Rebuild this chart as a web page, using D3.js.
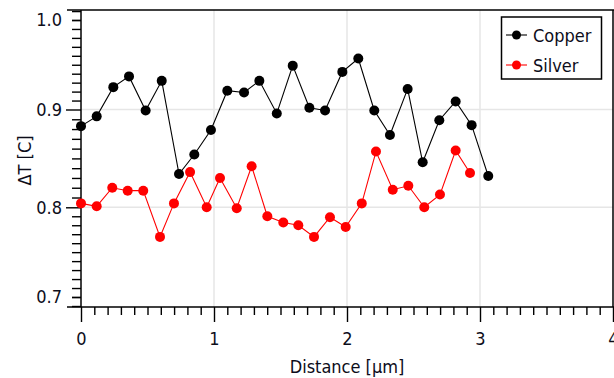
<!DOCTYPE html>
<html>
<head>
<meta charset="utf-8">
<script src="https://cdn.jsdelivr.net/npm/d3@7"></script>
<style>
  html, body { margin: 0; padding: 0; background: #fff; }
  svg { display: block; }
  text { font-family: "DejaVu Sans Condensed", "DejaVu Sans", sans-serif; font-stretch: condensed; fill: #0d0d1a; }
</style>
</head>
<body>
<svg id="chart" width="614" height="378"></svg>
<script>
// ---- data ----
const copperX = [0, 0.118, 0.243, 0.361, 0.486, 0.607, 0.737, 0.852, 0.977, 1.100, 1.226, 1.341, 1.472,
                 1.592, 1.717, 1.835, 1.965, 2.085, 2.205, 2.323, 2.456, 2.569, 2.694, 2.817, 2.937, 3.062];
const copperT = [0.883, 0.893, 0.925, 0.937, 0.899, 0.932, 0.834, 0.854, 0.879, 0.921, 0.919, 0.932, 0.896,
                 0.949, 0.902, 0.899, 0.942, 0.957, 0.899, 0.874, 0.923, 0.846, 0.889, 0.909, 0.884, 0.832];
const silverX = [0, 0.118, 0.235, 0.351, 0.468, 0.594, 0.699, 0.820, 0.945, 1.045, 1.171, 1.283, 1.401,
                 1.521, 1.634, 1.752, 1.872, 1.990, 2.111, 2.218, 2.344, 2.461, 2.581, 2.699, 2.817, 2.925];
const silverT = [0.804, 0.801, 0.820, 0.817, 0.817, 0.767, 0.804, 0.836, 0.800, 0.830, 0.799, 0.842, 0.790,
                 0.783, 0.780, 0.767, 0.789, 0.778, 0.804, 0.857, 0.818, 0.822, 0.800, 0.813, 0.858, 0.835];
const seriesNames = ["Copper", "Silver"];
const seriesColors = ["#000000", "#ff0000"];
const xTickValues = [0, 1, 2, 3, 4];
const yTickValues = [1.0, 0.9, 0.8, 0.7];
const xLabel = "Distance [μm]";
const yLabel = "ΔT [C]";

// ---- layout ----
const svg = d3.select("#chart");
const L = 81, R = 613, T = 10, B = 307;

const x = d3.scaleLinear().domain([0, 4]).range([L, R]);
// axis spacing in the reference is not perfectly uniform; piecewise linear mapping
const y = d3.scaleLinear()
  .domain([1.0112, 1.0, 0.9, 0.8, 0.7, 0.6889])
  .range([T, 20, 109.5, 207.3, 297, B]);

svg.append("rect").attr("width", 614).attr("height", 378).attr("fill", "#fff");

// grid
const grid = svg.append("g").attr("stroke", "#e6e6e6").attr("stroke-width", 1.5);
[1, 2, 3].forEach(v => grid.append("line").attr("x1", x(v)).attr("x2", x(v)).attr("y1", T).attr("y2", B));
[0.9, 0.8].forEach(v => grid.append("line").attr("x1", L).attr("x2", R).attr("y1", y(v)).attr("y2", y(v)));

function styleAxis(g) {
  g.select(".domain").remove();
  g.selectAll(".tick line").attr("stroke", "#000").attr("stroke-width", 1.4);
  g.selectAll(".tick text").attr("font-size", 18).style("font-family", null).attr("fill", "#0d0d1a");
}

// y minor ticks
const yMinor = d3.range(69, 102).map(d => d / 100).filter(v => ![90, 80].includes(Math.round(v * 100)));
svg.append("g").attr("transform", `translate(${L},0)`)
  .call(d3.axisLeft(y).tickValues(yMinor).tickSize(9).tickFormat(""))
  .call(styleAxis);
// y major (long) ticks
svg.append("g").attr("transform", `translate(${L},0)`)
  .call(d3.axisLeft(y).tickValues(yTickValues.filter(v => v === 0.9 || v === 0.8)).tickSize(15).tickPadding(4).tickFormat(d3.format(".1f")))
  .call(styleAxis);
svg.append("g").attr("transform", `translate(${L},0)`)
  .call(d3.axisLeft(y).tickValues(yTickValues.filter(v => v === 1.0 || v === 0.7)).tickSize(9).tickPadding(10).tickFormat(d3.format(".1f")))
  .call(styleAxis);

// x ticks
const xMinor = d3.range(0, 41).map(d => d / 10).filter(v => !xTickValues.includes(v));
svg.append("g").attr("transform", `translate(0,${B})`)
  .call(d3.axisBottom(x).tickValues(xMinor).tickSize(8).tickFormat(""))
  .call(styleAxis);
svg.append("g").attr("transform", `translate(0,${B})`)
  .call(d3.axisBottom(x).tickValues(xTickValues).tickSize(15).tickPadding(10).tickFormat(d3.format("d")))
  .call(styleAxis);

// frame
const frame = svg.append("g").attr("stroke", "#000").attr("stroke-width", 1.5);
frame.append("line").attr("x1", 67).attr("x2", R + 1).attr("y1", T).attr("y2", T);
frame.append("line").attr("x1", 67).attr("x2", R + 1).attr("y1", B).attr("y2", B);
frame.append("line").attr("x1", L).attr("x2", L).attr("y1", T).attr("y2", B);
frame.append("line").attr("x1", R).attr("x2", R).attr("y1", T).attr("y2", B);

// series
const series = [
  { name: seriesNames[0], color: seriesColors[0], pts: copperX.map((d, i) => [d, copperT[i]]) },
  { name: seriesNames[1], color: seriesColors[1], pts: silverX.map((d, i) => [d, silverT[i]]) }
];
const line = d3.line().x(d => x(d[0])).y(d => y(d[1]));
series.forEach(s => {
  svg.append("path").attr("d", line(s.pts)).attr("fill", "none")
    .attr("stroke", s.color).attr("stroke-width", 1.1);
  svg.append("g").selectAll("circle").data(s.pts).join("circle")
    .attr("cx", d => x(d[0])).attr("cy", d => y(d[1])).attr("r", 5)
    .attr("fill", s.color);
});

// axis titles
svg.append("text").attr("x", (L + R) / 2 + 0).attr("y", 373).attr("text-anchor", "middle")
  .attr("font-size", 18).text(xLabel);
svg.append("text").attr("transform", `translate(31,${(T + B) / 2 + 2}) rotate(-90)`)
  .attr("text-anchor", "middle").attr("font-size", 18).text(yLabel);

// legend
const lg = svg.append("g");
lg.append("rect").attr("x", 501.5).attr("y", 17).attr("width", 100).attr("height", 62)
  .attr("fill", "#fff").attr("stroke", "#000").attr("stroke-width", 1.5);
series.forEach((s, i) => {
  const cy = 35 + i * 30;
  lg.append("line").attr("x1", 506).attr("x2", 527).attr("y1", cy).attr("y2", cy)
    .attr("stroke", s.color).attr("stroke-width", 1.1);
  lg.append("circle").attr("cx", 516.5).attr("cy", cy).attr("r", 4.5).attr("fill", s.color);
  lg.append("text").attr("x", 533).attr("y", cy + 7).attr("font-size", 18).text(s.name);
});
</script>
</body>
</html>
